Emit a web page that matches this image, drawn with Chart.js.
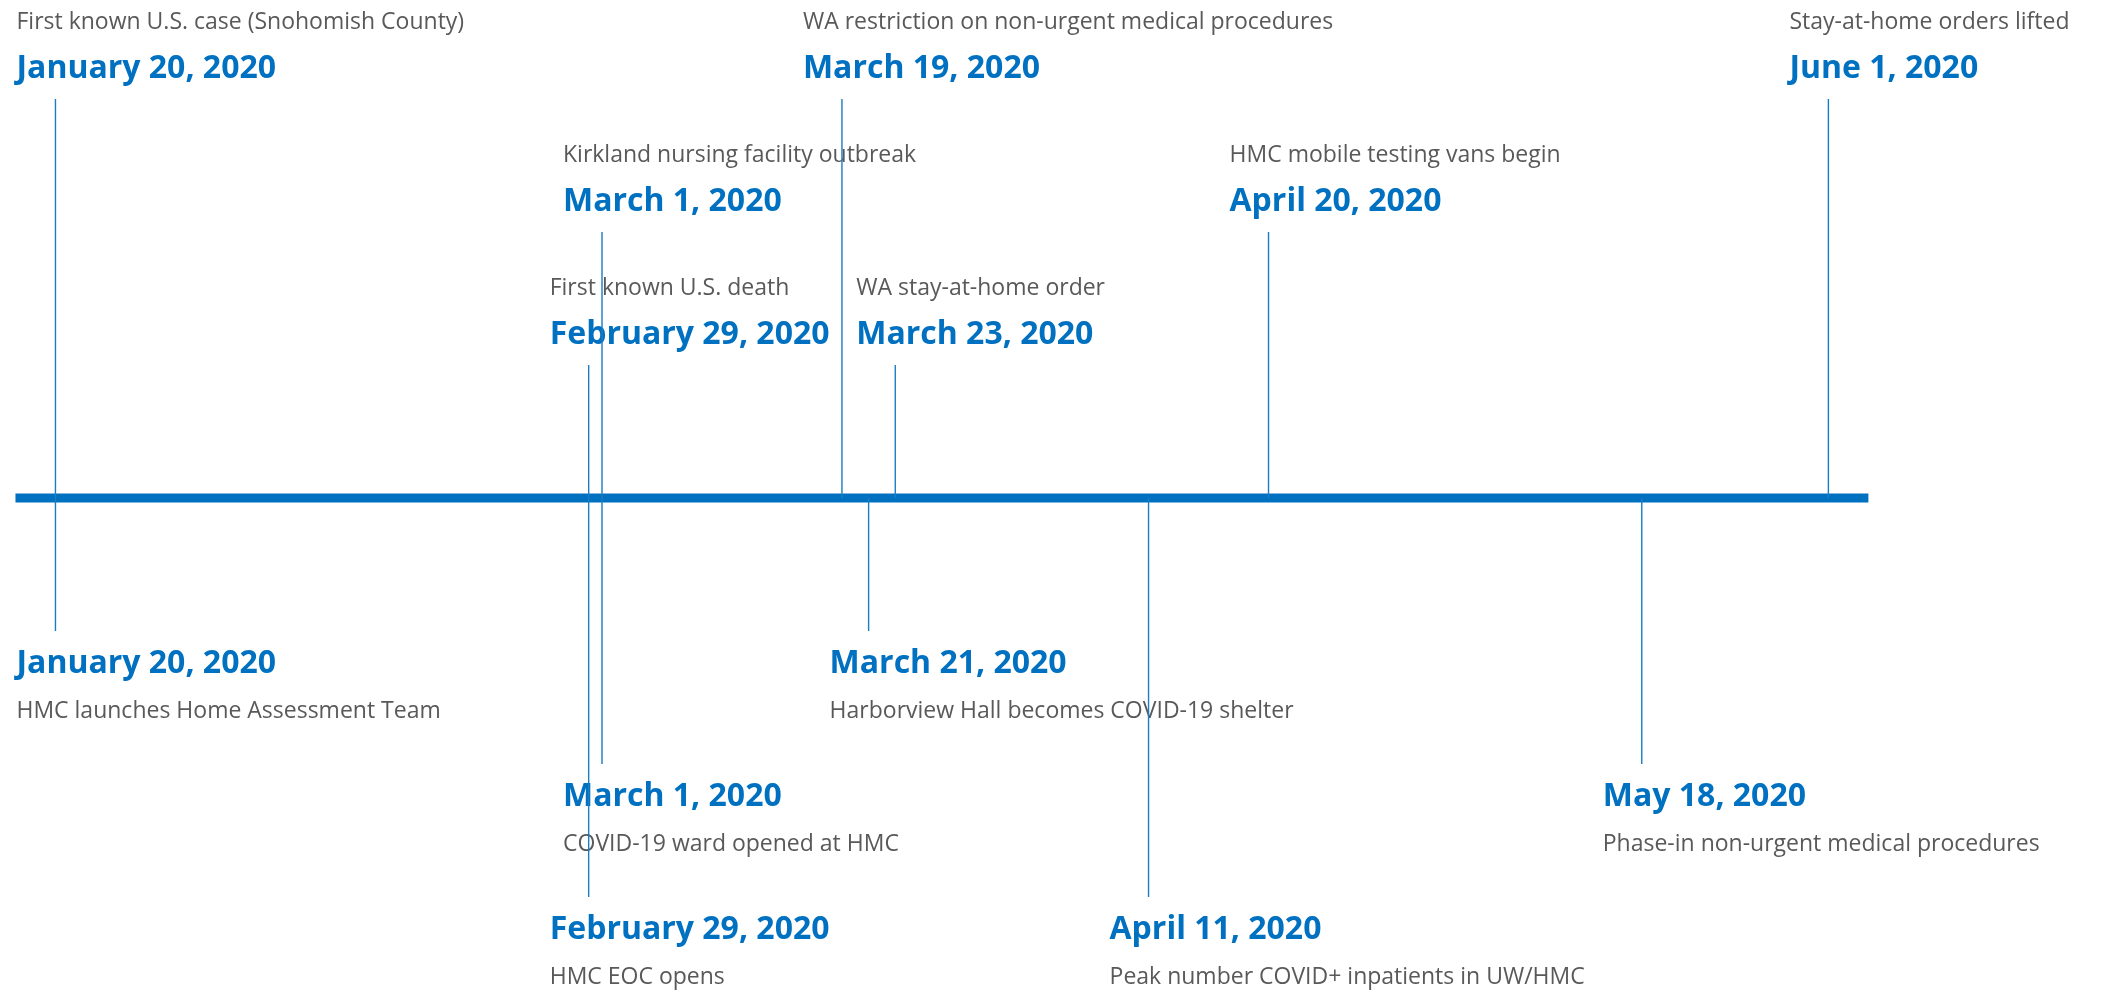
<!DOCTYPE html>
<html>
<head>
<meta charset="utf-8">
<script src="https://cdn.jsdelivr.net/npm/chart.js@4/dist/chart.umd.min.js"></script>
<style>
  html, body { margin: 0; padding: 0; background: #fff; }
  #wrap { width: 2105px; height: 994px; position: relative; }
</style>
</head>
<body>
<div id="wrap"><canvas id="timelineChart"></canvas></div>
<script>
// Timeline events (date, side/tier, label text)
const eventDates = [
  "2020-01-20", "2020-03-19", "2020-06-01",
  "2020-03-01", "2020-04-20",
  "2020-02-29", "2020-03-23",
  "2020-01-20", "2020-03-21",
  "2020-03-01", "2020-05-18",
  "2020-02-29", "2020-04-11"
];
// positive = above the line, negative = below; size = stem length tier
const eventTiers = [3, 3, 3, 2, 2, 1, 1, -1, -1, -2, -2, -3, -3];
const eventDateLabels = [
  "January 20, 2020", "March 19, 2020", "June 1, 2020",
  "March 1, 2020", "April 20, 2020",
  "February 29, 2020", "March 23, 2020",
  "January 20, 2020", "March 21, 2020",
  "March 1, 2020", "May 18, 2020",
  "February 29, 2020", "April 11, 2020"
];
const eventDescriptions = [
  "First known U.S. case (Snohomish County)",
  "WA restriction on non-urgent medical procedures",
  "Stay-at-home orders lifted",
  "Kirkland nursing facility outbreak",
  "HMC mobile testing vans begin",
  "First known U.S. death",
  "WA stay-at-home order",
  "HMC launches Home Assessment Team",
  "Harborview Hall becomes COVID-19 shelter",
  "COVID-19 ward opened at HMC",
  "Phase-in non-urgent medical procedures",
  "HMC EOC opens",
  "Peak number COVID+ inpatients in UW/HMC"
];
// extent of the main timeline bar
const axisStart = "2020-01-17";
const axisEnd = "2020-06-04";

const BLUE = "#0070C0";
const GREY = "#595959";
const FONT = "'Open Sans', sans-serif";

// days since Jan 20, 2020
const origin = Date.parse("2020-01-20");
function dayOf(s) {
  return (Date.parse(s) - origin) / 86400000;
}

const datasets = [];

// stems, one per event
eventDates.forEach((d, i) => {
  datasets.push({
    data: [{ x: dayOf(d), y: 0 }, { x: dayOf(d), y: eventTiers[i] }],
    borderColor: "#1a7cc4",
    borderWidth: 1.4,
    pointRadius: 0,
    order: 0
  });
});

// main timeline bar
datasets.push({
  data: [{ x: dayOf(axisStart), y: 0 }, { x: dayOf(axisEnd), y: 0 }],
  borderColor: BLUE,
  borderWidth: 9,
  borderCapStyle: "butt",
  pointRadius: 0,
  order: 1
});

// text labels next to each stem end
const labelPlugin = {
  id: "eventLabels",
  beforeDatasetsDraw(chart) {
    const ctx = chart.ctx;
    const xs = chart.scales.x;
    const ys = chart.scales.y;
    ctx.save();
    ctx.textAlign = "left";
    ctx.textBaseline = "alphabetic";
    eventDates.forEach((d, i) => {
      const px = xs.getPixelForValue(dayOf(d)) - 39;
      const py = ys.getPixelForValue(eventTiers[i]);
      let dateY, descY;
      if (eventTiers[i] > 0) {
        dateY = py - 21;
        descY = py - 70;
      } else {
        dateY = py + 42;
        descY = py + 87;
      }
      ctx.fillStyle = BLUE;
      ctx.font = "bold 32px " + FONT;
      ctx.fillText(eventDateLabels[i], px, dateY);
      ctx.fillStyle = GREY;
      ctx.font = "23px " + FONT;
      ctx.fillText(eventDescriptions[i], px, descY);
    });
    ctx.restore();
  }
};

const ctx = document.getElementById("timelineChart").getContext("2d");
new Chart(ctx, {
  type: "line",
  data: { datasets: datasets },
  options: {
    responsive: true,
    maintainAspectRatio: false,
    animation: false,
    events: [],
    layout: { padding: 0 },
    plugins: {
      legend: { display: false },
      tooltip: { enabled: false }
    },
    scales: {
      x: { type: "linear", display: false, min: -4.16, max: 153.75 },
      y: { type: "linear", display: false, min: -3.73, max: 3.745 }
    }
  },
  plugins: [labelPlugin]
});
</script>
</body>
</html>
